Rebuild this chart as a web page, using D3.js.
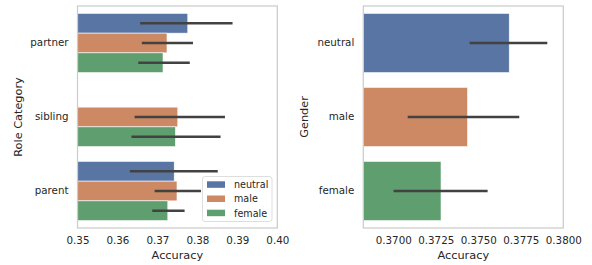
<!DOCTYPE html>
<html><head><meta charset="utf-8">
<script src="https://cdn.jsdelivr.net/npm/d3@7"></script>
<style>body{margin:0;background:#fff}svg{display:block}text{font-family:"DejaVu Sans",sans-serif;fill:#262626}</style>
</head><body><svg id="c" width="592" height="265"></svg>
<script>
// Left chart: accuracy by role category and gender
const roles = ["partner", "sibling", "parent"];
const genders = ["neutral", "male", "female"];
const genderColors = ["#5875a4", "#cc8963", "#5f9e6e"];
const neutralAcc = [0.3776, null, 0.3742];
const neutralLo  = [0.3657, null, 0.3631];
const neutralHi  = [0.3888, null, 0.3851];
const maleAcc    = [0.3724, 0.3751, 0.3749];
const maleLo     = [0.3661, 0.3643, 0.3693];
const maleHi     = [0.3789, 0.3869, 0.3809];
const femaleAcc  = [0.3714, 0.3745, 0.3726];
const femaleLo   = [0.3652, 0.3635, 0.3687];
const femaleHi   = [0.3781, 0.3858, 0.3768];
const leftTicks  = [0.35, 0.36, 0.37, 0.38, 0.39, 0.40];
// Right chart: accuracy by gender
const genderAcc = [0.37682, 0.37437, 0.37281];
const genderLo  = [0.37449, 0.37085, 0.37002];
const genderHi  = [0.37906, 0.37741, 0.37555];
const rightTicks = [0.3700, 0.3725, 0.3750, 0.3775, 0.3800];

const svg = d3.select("#c");
const plotTop = 6, plotBottom = 228;
const tickFont = 10.3, labelFont = 11.3;

function frame(g, x0, x1) {
  g.append("rect").attr("x", x0).attr("y", plotTop).attr("width", x1 - x0).attr("height", plotBottom - plotTop)
    .attr("fill", "none").attr("stroke", "#cccccc").attr("stroke-width", 1.25);
}

// ---------- Left ----------
const L = svg.append("g");
const xL = d3.scaleLinear().domain([0.35, 0.40]).range([77.5, 277.3]);
const yL = d3.scaleBand().domain(roles).range([plotTop, plotBottom]).paddingInner(0.2).paddingOuter(0.1);
const yIn = d3.scaleBand().domain(genders).range([0, yL.bandwidth()]);
const acc = [neutralAcc, maleAcc, femaleAcc], lo = [neutralLo, maleLo, femaleLo], hi = [neutralHi, maleHi, femaleHi];
const leftRows = [];
genders.forEach((g, gi) => roles.forEach((r, ri) => {
  if (acc[gi][ri] != null) leftRows.push({g, gi, r, v: acc[gi][ri], lo: lo[gi][ri], hi: hi[gi][ri]});
}));
L.selectAll("rect.bar").data(leftRows).join("rect").attr("class", "bar")
  .attr("x", xL.range()[0]).attr("y", d => yL(d.r) + yIn(d.g))
  .attr("width", d => xL(d.v) - xL.range()[0]).attr("height", yIn.bandwidth())
  .attr("fill", d => genderColors[d.gi]).attr("stroke", "#fff").attr("stroke-width", 0.6);
L.selectAll("line.err").data(leftRows).join("line").attr("class", "err")
  .attr("x1", d => xL(d.lo)).attr("x2", d => xL(d.hi))
  .attr("y1", d => yL(d.r) + yIn(d.g) + yIn.bandwidth() / 2).attr("y2", d => yL(d.r) + yIn(d.g) + yIn.bandwidth() / 2)
  .attr("stroke", "#424242").attr("stroke-width", 2.7);
frame(L, xL.range()[0], xL.range()[1]);
const axLB = L.append("g").attr("transform", `translate(0,${plotBottom})`)
  .call(d3.axisBottom(xL).tickValues(leftTicks).tickFormat(d3.format(".2f")).tickSize(0).tickPadding(9));
axLB.select(".domain").remove();
axLB.selectAll("text").attr("font-size", tickFont).attr("fill", "#262626").style("font-family", "DejaVu Sans");
const axLL = L.append("g").attr("transform", `translate(${xL.range()[0]},0)`)
  .call(d3.axisLeft(yL).tickSize(0).tickPadding(9));
axLL.select(".domain").remove();
axLL.selectAll("text").attr("font-size", tickFont).attr("fill", "#262626").style("font-family", "DejaVu Sans");
L.append("text").attr("x", (xL.range()[0] + xL.range()[1]) / 2).attr("y", 258.5).attr("text-anchor", "middle")
  .attr("font-size", labelFont).text("Accuracy");
L.append("text").attr("transform", `translate(22,${(plotTop + plotBottom) / 2}) rotate(-90)`).attr("text-anchor", "middle")
  .attr("font-size", labelFont).text("Role Category");

// legend
const lg = L.append("g").attr("transform", "translate(202.5,176.5)");
lg.append("rect").attr("width", 69.5).attr("height", 45).attr("rx", 2.5).attr("fill", "rgba(255,255,255,0.8)")
  .attr("stroke", "#d6d6d6").attr("stroke-width", 0.8);
genders.forEach((g, i) => {
  lg.append("rect").attr("x", 4.5).attr("y", 4.8 + i * 14.2).attr("width", 18).attr("height", 6.5).attr("fill", genderColors[i]);
  lg.append("text").attr("x", 31.5).attr("y", 11.6 + i * 14.2).attr("font-size", 9.6).text(g);
});

// ---------- Right ----------
const R = svg.append("g");
const xR = d3.scaleLinear().domain([0.36824, 0.3800]).range([363.3, 563.3]);
const yR = d3.scaleBand().domain(genders).range([plotTop, plotBottom]).paddingInner(0.2).paddingOuter(0.1);
const rightRows = genders.map((g, i) => ({g, i, v: genderAcc[i], lo: genderLo[i], hi: genderHi[i]}));
R.selectAll("rect.bar").data(rightRows).join("rect").attr("class", "bar")
  .attr("x", xR.range()[0]).attr("y", d => yR(d.g))
  .attr("width", d => xR(d.v) - xR.range()[0]).attr("height", yR.bandwidth())
  .attr("fill", d => genderColors[d.i]).attr("stroke", "#fff").attr("stroke-width", 0.6);
R.selectAll("line.err").data(rightRows).join("line").attr("class", "err")
  .attr("x1", d => xR(d.lo)).attr("x2", d => xR(d.hi))
  .attr("y1", d => yR(d.g) + yR.bandwidth() / 2).attr("y2", d => yR(d.g) + yR.bandwidth() / 2)
  .attr("stroke", "#424242").attr("stroke-width", 2.7);
frame(R, xR.range()[0], xR.range()[1]);
const axRB = R.append("g").attr("transform", `translate(0,${plotBottom})`)
  .call(d3.axisBottom(xR).tickValues(rightTicks).tickFormat(d3.format(".4f")).tickSize(0).tickPadding(9));
axRB.select(".domain").remove();
axRB.selectAll("text").attr("font-size", tickFont).attr("fill", "#262626").style("font-family", "DejaVu Sans");
const axRL = R.append("g").attr("transform", `translate(${xR.range()[0]},0)`)
  .call(d3.axisLeft(yR).tickSize(0).tickPadding(9));
axRL.select(".domain").remove();
axRL.selectAll("text").attr("font-size", tickFont).attr("fill", "#262626").style("font-family", "DejaVu Sans");
R.append("text").attr("x", (xR.range()[0] + xR.range()[1]) / 2).attr("y", 258.5).attr("text-anchor", "middle")
  .attr("font-size", labelFont).text("Accuracy");
R.append("text").attr("transform", `translate(308,${(plotTop + plotBottom) / 2}) rotate(-90)`).attr("text-anchor", "middle")
  .attr("font-size", labelFont).text("Gender");
</script></body></html>
